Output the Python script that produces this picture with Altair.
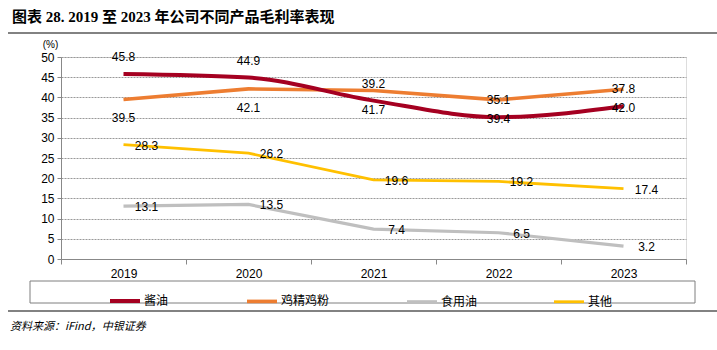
import altair as alt
import pandas as pd

years = ["2019", "2020", "2021", "2022", "2023"]
series_names = ["酱油", "鸡精鸡粉", "食用油", "其他"]
soy_sauce = [45.8, 44.9, 39.2, 35.1, 37.8]
chicken_essence = [39.5, 42.1, 41.7, 39.4, 42.0]
edible_oil = [13.1, 13.5, 7.4, 6.5, 3.2]
others = [28.3, 26.2, 19.6, 19.2, 17.4]
colors = ["#A50021", "#ED7D31", "#BFBFBF", "#FFC000"]
widths = [4, 2.8, 2.8, 2.8]

title_text = "图表 28. 2019 至 2023 年公司不同产品毛利率表现"
source_text = "资料来源：iFind，中银证券"

rows = []
for name, vals in zip(series_names, [soy_sauce, chicken_essence, edible_oil, others]):
    for y, v in zip(years, vals):
        rows.append({"year": y, "series": name, "value": v, "label": f"{v:.1f}"})
df = pd.DataFrame(rows)

NUM_FONT = "Liberation Sans"
CJK_FONT = "Noto Sans CJK SC"

x_enc = alt.X(
    "year:O",
    sort=years,
    scale=alt.Scale(type="band", paddingInner=0, paddingOuter=0),
    axis=alt.Axis(
        title=None, labelAngle=0, tickBand="extent", tickSize=5, tickColor="#888888",
        domainColor="#888888", labelFont=NUM_FONT, labelFontSize=12, labelColor="#000000",
        labelPadding=4, grid=False,
    ),
)
y_enc = alt.Y(
    "value:Q",
    scale=alt.Scale(domain=[0, 50], nice=False),
    axis=alt.Axis(
        values=list(range(0, 51, 5)), title="(%)", titleAngle=0, titleX=-11, titleY=-8,
        titleAlign="center", titleBaseline="bottom", titleFontSize=10, titleFontWeight="normal",
        titleFont=NUM_FONT, titleColor="#000000",
        labelFont=NUM_FONT, labelFontSize=12, labelColor="#000000", labelPadding=3,
        tickSize=4, tickColor="#888888", domainColor="#888888",
        grid=True, gridColor="#999999", gridDash=[2, 1], gridWidth=1,
    ),
)
legend_opts = dict(
    title=None, orient="none", legendX=47, legendY=227, direction="horizontal",
    columns=4, symbolType="stroke", symbolSize=900, labelFont=CJK_FONT,
    labelFontSize=12, labelColor="#000000", labelOffset=2, columnPadding=70,
    padding=0,
)
color_enc = alt.Color(
    "series:N",
    scale=alt.Scale(domain=series_names, range=colors),
    legend=alt.Legend(**legend_opts),
)
sw_enc = alt.StrokeWidth(
    "series:N",
    scale=alt.Scale(domain=series_names, range=widths),
    legend=alt.Legend(**legend_opts),
)

base = alt.Chart(df)

smooth = base.transform_filter(alt.datum.series == "酱油").mark_line(
    interpolate="monotone").encode(x=x_enc, y=y_enc, color=color_enc, strokeWidth=sw_enc)
straight = base.transform_filter(alt.datum.series != "酱油").mark_line(
    interpolate="linear").encode(x=x_enc, y=y_enc, color=color_enc, strokeWidth=sw_enc)

txt_common = dict(font=NUM_FONT, fontSize=12, color="#000000")
lab_red = base.transform_filter(alt.datum.series == "酱油").mark_text(
    dy=-17, **txt_common).encode(x=x_enc, y=y_enc, text="label:N")
lab_orange = base.transform_filter(alt.datum.series == "鸡精鸡粉").mark_text(
    dy=19, **txt_common).encode(x=x_enc, y=y_enc, text="label:N")
lab_side = base.transform_filter(
    (alt.datum.series == "食用油") | (alt.datum.series == "其他")).mark_text(
    dx=23, dy=1, **txt_common).encode(x=x_enc, y=y_enc, text="label:N")

deco = alt.Chart(pd.DataFrame({"t": [title_text], "s": [source_text]}))
title_mark = deco.mark_text(
    align="left", baseline="alphabetic", font="'Liberation Serif', 'Noto Sans CJK SC'",
    fontSize=15, fontWeight="bold", color="#000000").encode(
    x=alt.value(-49), y=alt.value(-35), text="t:N")
source_mark = deco.mark_text(
    align="left", baseline="alphabetic", font="'Noto Sans CJK SC'", fontSize=11,
    fontStyle="italic", color="#000000").encode(
    x=alt.value(-51), y=alt.value(273), text="s:N")
top_rule = deco.mark_rule(color="#595959", strokeWidth=1.5).encode(
    x=alt.value(-53), x2=alt.value(656), y=alt.value(-24))
bottom_rule = deco.mark_rule(color="#595959", strokeWidth=1.5).encode(
    x=alt.value(-53), x2=alt.value(656), y=alt.value(254))
legend_box = deco.mark_rect(fill=None, stroke="#7F7F7F", strokeWidth=1).encode(
    x=alt.value(-31), x2=alt.value(634), y=alt.value(224), y2=alt.value(246))

chart = alt.layer(
    legend_box, top_rule, bottom_rule, title_mark, source_mark,
    straight, smooth, lab_red, lab_orange, lab_side,
).properties(
    width=625, height=202,
    autosize=alt.AutoSizeParams(type="none"),
    padding={"left": 61, "top": 57, "right": 31, "bottom": 91},
).configure_view(stroke=None).configure(background="#ffffff")

chart.save("out.html", embed_options={"renderer": "svg", "actions": False})
